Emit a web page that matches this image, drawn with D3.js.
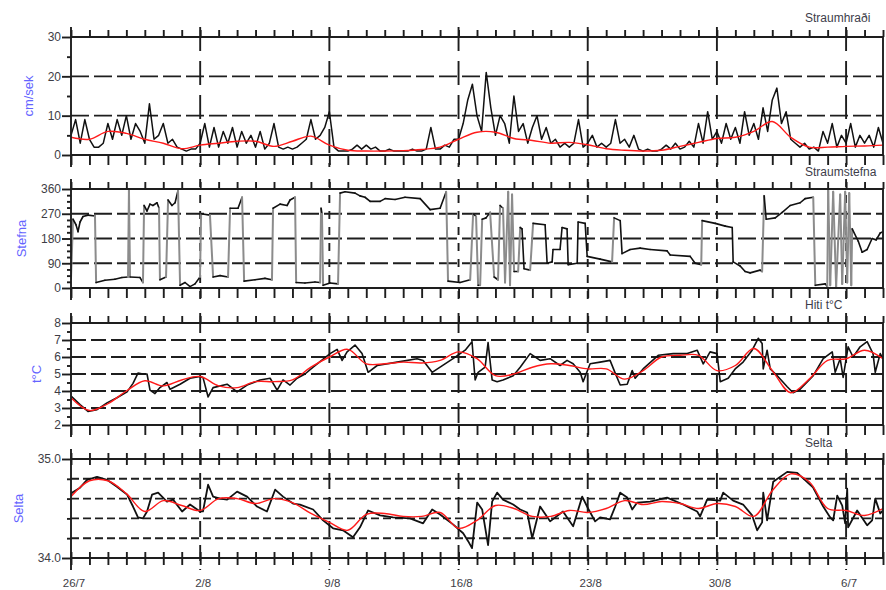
<!DOCTYPE html>
<html><head><meta charset="utf-8">
<script src="https://cdn.jsdelivr.net/npm/d3@7/dist/d3.min.js"></script>
<style>
body{margin:0;background:#fff}
svg{display:block}
text{font-family:"Liberation Sans",Arial,Helvetica,sans-serif}
</style>
</head><body>
<svg id="c" width="886" height="590"></svg>
<script>
// ---------------- DATA ----------------
// time axis: days after 26/7
const dateLabels = ["26/7","2/8","9/8","16/8","23/8","30/8","6/7"];
const dateLabelDays = [0,7,14,21,28,35,42];

// Straumhraði (cm/sek), sampled every 0.25 day from day 0
const speedStep = 0.25;
const speedVals = [
 5,9,3,9, 4,2,2,3, 8,4,9,5, 10,4,8,6, 3,13,4,5, 8,3,4,2, 1.5,1,1.5,1.5,
 3,8,2,7, 2,6,3,7, 2,6,3,5, 2,6,1.5,3, 8,2,1.5,2, 1.5,2,3,4, 9,4,5,7,
 11,2,1,1, 1,1.5,2.5,1.5, 2.5,1.5,2,1, 1,1.5,1,1, 1,1,1.5,1, 1,1.5,7,1.5, 1.5,2.5,2,4,
 4,8,14,18, 10,6,21,12, 5,10,8,3, 15,6,8,3, 7,10,4,7, 3,4,2,3, 2,3,9,2,
 3,5,2,3, 2,3,9,3, 4,2,5,1.5, 1,1.5,1,1, 1.5,2.5,1.5,3, 1.5,2,3.5,2, 8,3,11,4,
 6,3,8,4, 7,3,11,5, 8,4,12,6, 14,17,8,11, 4,3,2,3, 1.5,2,1,6, 3,8,2,5,
 3,8,2,5, 3,5,2,7, 3
];
// daily smoothed speed (red)
const speedSmooth = [4.5,4,6,5.5,4,3,1.6,2.5,3,3.5,3.5,2.2,3.5,4.8,2.5,1.2,1,1,1.1,1.4,2,4,5.8,5.8,4.2,3.7,3,3.2,2.6,1.6,1.2,1,1.2,2.2,3.2,4.2,4.5,6,8.5,4.5,2,2,2.2,2.3,2.5];

// Straumstefna (degrees)
const dirDays = [0,0.11,0.27,0.38,0.49,0.65,0.92,1.30,1.36,1.84,2.38,2.76,3.09,3.14,3.20,3.74,3.90,3.96,4.12,4.28,4.44,4.66,4.77,4.82,5.15,5.26,5.47,5.64,5.80,5.91,6.18,6.45,6.72,6.99,7.05,7.53,7.70,8.08,8.51,8.62,9.05,9.27,9.38,9.97,10.51,10.89,10.95,11.33,11.71,11.87,12.14,12.20,12.68,13.22,13.50,13.55,13.60,13.66,14.04,14.47,14.58,14.85,15.39,15.66,15.93,16.21,16.75,17.02,17.56,18.10,18.92,19.46,20.00,20.33,20.43,21.08,21.63,21.79,21.95,22.06,22.17,22.28,22.49,22.71,22.93,23.14,23.25,23.41,23.52,23.69,23.79,23.90,24.01,24.23,24.34,24.44,24.55,24.88,25.04,25.69,25.80,26.07,26.12,26.50,26.61,26.88,26.94,27.43,27.48,27.86,27.97,28.67,29.32,29.43,29.76,29.86,30.30,30.84,31.38,32.30,32.47,33.55,33.82,34.15,34.20,34.91,35.45,35.83,35.88,36.26,36.53,36.80,37.34,37.45,37.56,37.67,38.16,38.54,38.97,39.51,39.78,40.22,40.33,40.87,40.98,41.03,41.14,41.30,41.46,41.68,41.79,41.95,42.06,42.17,42.28,42.33,42.66,42.87,43.14,43.41,43.63,43.85,44.0];
const dirDeg = [35,250,230,205,240,260,265,262,20,28,32,38,40,355,40,38,20,300,280,305,300,310,290,30,40,320,300,310,355,10,20,5,15,40,270,265,40,45,40,290,290,330,25,30,35,30,290,305,300,320,330,20,18,22,20,290,270,10,18,15,345,350,345,335,330,315,315,325,322,330,325,285,290,350,25,20,30,270,260,10,10,250,255,275,40,30,300,290,20,350,10,340,60,60,220,215,70,65,235,230,90,95,140,140,220,215,85,90,240,235,115,105,95,255,245,125,140,145,140,135,120,115,90,85,245,235,225,220,95,80,60,55,65,60,335,250,255,275,300,310,325,330,10,15,5,355,10,350,5,340,15,350,20,345,10,215,170,130,140,180,175,200,205];

// Hiti t°C
const tempDays = [0,0.05,0.49,0.92,1.41,1.95,2.49,3.04,3.36,3.63,3.90,4.12,4.28,4.55,4.82,5.20,5.37,5.91,6.45,6.99,7.15,7.43,7.70,8.46,9.00,9.54,10.24,10.79,11.17,11.49,11.87,12.25,12.68,13.12,14.04,14.42,14.69,14.96,15.39,15.77,16.10,16.59,17.67,18.75,19.08,19.57,20.00,20.70,21.36,21.73,21.90,22.06,22.44,22.60,22.82,23.09,23.41,23.96,24.34,24.88,25.42,25.96,26.50,26.88,27.21,27.59,27.75,28.13,28.67,29.21,29.49,29.76,30.14,30.41,30.57,31.00,31.82,32.63,33.39,33.93,34.26,34.63,35.01,35.18,35.61,35.99,36.42,36.91,37.24,37.45,37.51,37.72,37.89,38.27,38.81,39.13,39.51,40.22,40.76,41.25,41.41,41.68,41.84,42.11,42.38,42.76,43.14,43.46,43.58,43.85,44.0];
const tempVals = [3.7,3.65,3.2,2.8,2.9,3.3,3.6,3.95,4.45,5.05,5.0,5.0,4.05,3.85,4.2,4.5,4.1,4.4,4.75,4.85,4.8,3.65,4.2,4.4,3.95,4.35,4.65,4.75,4.05,4.65,4.35,4.75,5.0,5.4,6.2,6.45,5.8,6.3,6.7,6.2,5.1,5.5,5.7,5.9,5.8,5.1,5.4,5.9,6.4,6.9,4.65,5.1,5.4,6.85,4.65,4.55,4.65,4.9,5.4,6.2,5.8,5.9,5.5,5.8,5.6,5.1,4.55,5.6,5.7,5.8,5.05,4.35,4.4,5.2,4.75,5.3,6.1,6.2,6.2,6.4,5.6,6.3,6.2,4.55,4.75,5.3,5.7,6.4,7.1,6.8,5.3,6.4,5.3,4.9,4.25,3.9,4.1,4.9,5.9,6.3,5.1,5.9,4.8,6.6,6.0,6.6,6.9,6.2,5.1,6.2,5.9];
const tempSmooth = [3.6,2.85,3.25,4.0,4.6,4.3,4.65,4.85,4.3,4.2,4.55,4.55,4.65,5.4,6.0,6.45,5.6,5.6,5.7,5.65,5.8,6.3,5.9,4.9,5.0,5.4,5.6,5.5,5.3,5.3,4.7,5.2,6.0,6.1,6.1,5.2,5.5,6.5,5.2,3.9,4.7,5.8,5.9,6.4,5.9];

// Selta
const saltDays = [0,0.05,0.49,0.87,1.41,1.95,2.49,3.04,3.36,3.63,3.90,4.12,4.39,4.72,5.20,5.53,6.02,6.45,6.99,7.15,7.43,7.70,8.08,8.46,9.00,9.54,10.08,10.62,11.06,11.49,12.03,12.41,13.12,13.66,14.20,14.74,15.28,15.66,16.10,16.75,17.45,18.37,19.08,19.57,20.00,20.70,21.25,21.52,21.73,22.01,22.28,22.60,22.82,23.09,23.41,23.96,24.34,24.72,24.99,25.42,25.96,26.66,27.21,27.70,28.02,28.40,28.67,29.21,29.49,29.76,30.14,30.41,30.68,31.38,32.30,33.17,33.93,34.09,34.47,35.18,35.34,35.88,36.42,36.91,37.18,37.45,37.51,37.72,38.05,38.81,39.35,40.22,40.76,41.14,41.30,41.52,41.79,41.95,42.06,42.11,42.60,43.14,43.41,43.58,43.85,44.0];
const saltVals = [34.62,34.66,34.71,34.79,34.82,34.79,34.72,34.64,34.52,34.41,34.40,34.47,34.64,34.66,34.57,34.59,34.47,34.54,34.47,34.47,34.74,34.62,34.60,34.59,34.67,34.62,34.52,34.47,34.69,34.62,34.55,34.54,34.49,34.38,34.30,34.28,34.21,34.31,34.48,34.43,34.41,34.40,34.35,34.49,34.44,34.34,34.25,34.17,34.10,34.56,34.49,34.13,34.57,34.66,34.59,34.54,34.49,34.46,34.20,34.52,34.37,34.47,34.32,34.62,34.50,34.37,34.41,34.39,34.52,34.66,34.61,34.49,34.56,34.57,34.61,34.54,34.47,34.42,34.59,34.58,34.66,34.58,34.54,34.43,34.28,34.36,34.66,34.38,34.77,34.87,34.86,34.71,34.52,34.41,34.38,34.63,34.53,34.35,34.70,34.31,34.48,34.33,34.38,34.60,34.45,34.48];
const saltSmooth = [34.62,34.78,34.78,34.65,34.47,34.58,34.53,34.48,34.6,34.6,34.55,34.6,34.56,34.45,34.36,34.28,34.44,34.45,34.42,34.42,34.46,34.3,34.38,34.53,34.5,34.42,34.42,34.48,34.46,34.5,34.58,34.54,34.57,34.55,34.5,34.55,34.52,34.42,34.68,34.85,34.77,34.5,34.48,34.43,34.5];

// tick values
const speedTicks = [0,10,20,30], speedMinor = [5,15,25], speedGrid = [10,20];
const dirTicks = [0,90,180,270,360], dirMinor = [22.5,45,67.5,112.5,135,157.5,202.5,225,247.5,292.5,315,337.5], dirGrid = [90,180,270];
const tempTicks = [2,3,4,5,6,7,8], tempMinor = [2.5,3.5,4.5,5.5,6.5,7.5], tempGrid = [3,4,5,6,7];
const saltTicks = [34.0,35.0], saltMinor = [34.2,34.4,34.6,34.8], saltGrid = [34.2,34.4,34.6,34.8];

// ---------------- DRAWING ----------------
const svg = d3.select("#c");
const INK = "#1e1e1e";
const SW = 1.9;
const x = d3.scaleLinear().domain([0,44]).range([71,883]);
const dayTicks = d3.range(0,45);
const weekDays = [7,14,21,28,35,42];

function panel(cfg){
  const y = d3.scaleLinear().domain(cfg.domain).range([cfg.bottom, cfg.top]);
  const g = svg.append("g");
  const id = "clip"+cfg.id;
  svg.append("clipPath").attr("id",id).append("rect")
    .attr("x",x(0)).attr("y",cfg.top).attr("width",x(44)-x(0)).attr("height",cfg.bottom-cfg.top);
  // horizontal grid
  g.selectAll("line.hg").data(cfg.grid).join("line").attr("class","hg")
    .attr("x1",x(0)).attr("x2",x(44)).attr("y1",d=>y(d)).attr("y2",d=>y(d))
    .attr("stroke",INK).attr("stroke-width",SW).attr("stroke-dasharray",cfg.hDash);
  // weekly vertical lines
  g.selectAll("line.vg").data(weekDays).join("line").attr("class","vg")
    .attr("x1",d=>x(d)).attr("x2",d=>x(d)).attr("y1",cfg.top-10).attr("y2",cfg.bottom+12)
    .attr("stroke",INK).attr("stroke-width",SW).attr("stroke-dasharray",cfg.vDash);
  const data = g.append("g").attr("clip-path",`url(#${id})`);
  const axes = g.append("g");
  // frame
  axes.append("line").attr("x1",x(0)).attr("x2",x(0)).attr("y1",cfg.top-10).attr("y2",cfg.bottom+12).attr("stroke",INK).attr("stroke-width",SW);
  axes.append("line").attr("x1",x(44)).attr("x2",x(44)).attr("y1",cfg.top).attr("y2",cfg.bottom).attr("stroke",INK).attr("stroke-width",SW);
  axes.append("line").attr("x1",x(0)).attr("x2",x(44)).attr("y1",cfg.top).attr("y2",cfg.top).attr("stroke",INK).attr("stroke-width",SW);
  axes.append("line").attr("x1",x(0)).attr("x2",x(44)).attr("y1",cfg.bottom).attr("y2",cfg.bottom).attr("stroke",INK).attr("stroke-width",SW);
  // daily ticks
  const tTop = axes.append("g").attr("transform",`translate(0,${cfg.top})`)
    .call(d3.axisTop(x).tickValues(dayTicks).tickSize(7).tickFormat(""));
  const tBot = axes.append("g").attr("transform",`translate(0,${cfg.bottom})`)
    .call(d3.axisBottom(x).tickValues(dayTicks).tickSize(10).tickFormat(""));
  [tTop,tBot].forEach(a=>{a.select(".domain").remove(); a.selectAll("line").attr("stroke",INK).attr("stroke-width",SW);});
  if(cfg.cross){
    tTop.selectAll("line").attr("y1",6).attr("y2",-6);
    tBot.selectAll("line").attr("y1",-6).attr("y2",7);
  }
  // y axis
  const ya = axes.append("g").attr("transform",`translate(${x(0)},0)`)
    .call(d3.axisLeft(y).tickValues(cfg.major).tickSize(9).tickPadding(1).tickFormat(cfg.fmt));
  ya.select(".domain").remove();
  ya.selectAll("line").attr("stroke",INK).attr("stroke-width",SW);
  ya.selectAll("text").attr("fill","#3d3d45").style("font-size","12px");
  const ym = axes.append("g").attr("transform",`translate(${x(0)},0)`)
    .call(d3.axisLeft(y).tickValues(cfg.minor).tickSize(4).tickFormat(""));
  ym.select(".domain").remove();
  ym.selectAll("line").attr("stroke",INK).attr("stroke-width",SW);
  // title
  g.append("text").attr("x",805).attr("y",cfg.titleY).text(cfg.title)
    .attr("fill","#3d3d4a").style("font-size","12px");
  // y label
  g.append("text").attr("transform",`translate(${cfg.ylabX},${(cfg.top+cfg.bottom)/2}) rotate(-90)`)
    .attr("text-anchor","middle").text(cfg.ylab).attr("fill","#6464ff").style("font-size","13px");
  return {y, data};
}

const black = "#111", red = "#ff1a1a";

// Panel 1: speed
{
  const p = panel({id:1, top:37, bottom:155, domain:[0,30], major:speedTicks, minor:speedMinor, grid:speedGrid,
    fmt:d3.format("d"), hDash:"18,5", vDash:"24,10", title:"Straumhraði", titleY:22, ylab:"cm/sek", ylabX:33});
  const pts = speedVals.map((v,i)=>[i*speedStep, v]);
  p.data.append("path").datum(pts).attr("fill","none").attr("stroke",black).attr("stroke-width",1.5)
    .attr("stroke-linejoin","round")
    .attr("d", d3.line().x(d=>x(d[0])).y(d=>p.y(d[1])));
  p.data.append("path").datum(speedSmooth.map((v,i)=>[i,v])).attr("fill","none").attr("stroke",red).attr("stroke-width",1.4)
    .attr("d", d3.line().curve(d3.curveCatmullRom).x(d=>x(d[0])).y(d=>p.y(d[1])));
}
// Panel 2: direction
{
  const p = panel({id:2, top:189, bottom:288, domain:[0,360], major:dirTicks, minor:dirMinor, grid:dirGrid,
    fmt:d3.format("d"), hDash:"18,5", vDash:"8,8", title:"Straumstefna", titleY:176, ylab:"Stefna", ylabX:26});
  const pts = d3.zip(dirDays, dirDeg);
  const segs = d3.pairs(pts);
  p.data.selectAll("line.seg").data(segs).join("line").attr("class","seg")
    .attr("x1",d=>x(d[0][0])).attr("x2",d=>x(d[1][0])).attr("y1",d=>p.y(d[0][1])).attr("y2",d=>p.y(d[1][1]))
    .attr("stroke",d=>Math.abs(d[1][1]-d[0][1])>150 ? "#8c8c8c" : black)
    .attr("stroke-width",d=>Math.abs(d[1][1]-d[0][1])>150 ? 2 : 1.6)
    .attr("stroke-linecap","round");
}
// Panel 3: temperature
{
  const p = panel({id:3, top:323, bottom:425, domain:[2,8], major:tempTicks, minor:tempMinor, grid:tempGrid,
    fmt:d3.format("d"), hDash:"15,5", vDash:"20,10", title:"Hiti t°C", titleY:309, ylab:"t°C", ylabX:41});
  p.data.append("path").datum(d3.zip(tempDays,tempVals)).attr("fill","none").attr("stroke",black).attr("stroke-width",1.6)
    .attr("stroke-linejoin","round")
    .attr("d", d3.line().x(d=>x(d[0])).y(d=>p.y(d[1])));
  p.data.append("path").datum(tempSmooth.map((v,i)=>[i,v])).attr("fill","none").attr("stroke",red).attr("stroke-width",1.4)
    .attr("d", d3.line().curve(d3.curveCatmullRom).x(d=>x(d[0])).y(d=>p.y(d[1])));
}
// Panel 4: salinity
{
  const p = panel({id:4, top:459, bottom:558, domain:[34,35], major:saltTicks, minor:saltMinor, grid:saltGrid,
    fmt:d3.format(".1f"), hDash:"8,4", vDash:"16,8", title:"Selta", titleY:447, ylab:"Selta", ylabX:23, cross:true});
  p.data.append("path").datum(d3.zip(saltDays,saltVals)).attr("fill","none").attr("stroke",black).attr("stroke-width",1.8)
    .attr("stroke-linejoin","round")
    .attr("d", d3.line().x(d=>x(d[0])).y(d=>p.y(d[1])));
  p.data.append("path").datum(saltSmooth.map((v,i)=>[i,v])).attr("fill","none").attr("stroke",red).attr("stroke-width",1.4)
    .attr("d", d3.line().curve(d3.curveCatmullRom).x(d=>x(d[0])).y(d=>p.y(d[1])));
  // date labels
  svg.append("g").selectAll("text").data(d3.zip(dateLabelDays,dateLabels)).join("text")
    .attr("x",d=>x(d[0])+3).attr("y",587).attr("text-anchor","middle")
    .attr("fill","#3d3d45").style("font-size","11.5px").text(d=>d[1]);
}
</script>
</body></html>
